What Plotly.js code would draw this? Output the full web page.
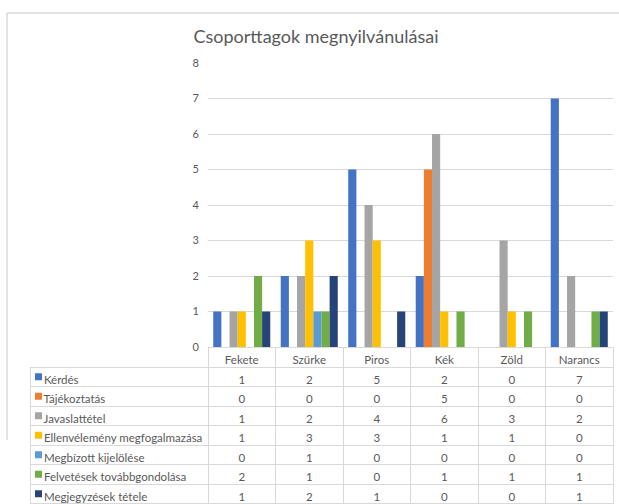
<!DOCTYPE html>
<html>
<head>
<meta charset="utf-8">
<script src="https://cdn.plot.ly/plotly-3.0.1.min.js"></script>
<style>html,body{margin:0;padding:0;background:#fff;}#chart{width:619px;height:504px;}</style>
</head>
<body>
<div id="chart"></div>
<script>
var categories = ['Fekete', 'Szürke', 'Piros', 'Kék', 'Zöld', 'Narancs'];
var seriesNames = ['Kérdés', 'Tájékoztatás', 'Javaslattétel', 'Ellenvélemény megfogalmazása', 'Megbízott kijelölése', 'Felvetések továbbgondolása', 'Megjegyzések tétele'];
var kerdes = [1, 2, 5, 2, 0, 7];
var tajekoztatas = [0, 0, 0, 5, 0, 0];
var javaslattetel = [1, 2, 4, 6, 3, 2];
var ellenvelemeny = [1, 3, 3, 1, 1, 0];
var megbizott = [0, 1, 0, 0, 0, 0];
var felvetesek = [2, 1, 0, 1, 1, 1];
var megjegyzesek = [1, 2, 1, 0, 0, 1];
var seriesValues = [kerdes, tajekoztatas, javaslattetel, ellenvelemeny, megbizott, felvetesek, megjegyzesek];
var seriesColors = ['#4472C4', '#ED7D31', '#A5A5A5', '#FFC000', '#5B9BD5', '#70AD47', '#264478'];
var yTicks = [0, 1, 2, 3, 4, 5, 6, 7, 8];

var W = 619, H = 504;
var plotL = 208, plotR = 613, plotT = 63, plotB = 347;
var tableL = 30, headerH = 20, rowH = 19.5;
var txt = '#595959', grid = '#d9d9d9';
var fontFam = 'Lato, Calibri, Carlito, sans-serif';

var traces = [];
for (var i = 0; i < seriesNames.length; i++) {
  traces.push({
    type: 'bar', name: seriesNames[i], x: categories, y: seriesValues[i],
    marker: {color: seriesColors[i], line: {width: 0}},
    showlegend: false, hoverinfo: 'x+y+name'
  });
}

// Data table: names use non-breaking spaces so the table keeps single-line rows
var firstCol = seriesNames.map(function (n) {
  return '\u00A0\u00A0' + n.replace(/ /g, '\u00A0');
});
var tableCols = [firstCol];
for (var c = 0; c < categories.length; c++) {
  tableCols.push(seriesValues.map(function (s) { return String(s[c]); }));
}
var headerVals = [''].concat(categories);
var catW = (plotR - plotL) / categories.length;
var colWidths = [plotL - tableL].concat(categories.map(function () { return catW; }));
var headerLine = ['rgba(0,0,0,0)'].concat(categories.map(function () { return grid; }));
var headerFill = ['rgba(0,0,0,0)'].concat(categories.map(function () { return '#ffffff'; }));
var aligns = ['left'].concat(categories.map(function () { return 'center'; }));

traces.push({
  type: 'table',
  domain: {x: [tableL / W, plotR / W], y: [0, (H - plotB) / H]},
  columnwidth: colWidths,
  header: {
    values: headerVals, height: headerH, align: 'center',
    fill: {color: headerFill}, line: {color: headerLine, width: 1},
    font: {family: fontFam, size: 11.5, color: txt}
  },
  cells: {
    values: tableCols, height: rowH, align: aligns,
    fill: {color: '#ffffff'}, line: {color: grid, width: 1},
    font: {family: fontFam, size: 11.5, color: txt}
  }
});

// Legend keys (coloured squares) in front of each table row
var shapes = [
  {type: 'line', xref: 'paper', yref: 'paper', x0: 7 / W, x1: 1, y0: 1 - 13 / H, y1: 1 - 13 / H,
   line: {color: '#d9d9d9', width: 1.5}},
  {type: 'line', xref: 'paper', yref: 'paper', x0: 7 / W, x1: 7 / W, y0: 1 - 13 / H, y1: 1 - 440 / H,
   line: {color: '#d9d9d9', width: 1.5}}
];
seriesColors.forEach(function (col, i) {
  var cy = plotB + headerH + (i + 0.5) * rowH;
  shapes.push({type: 'rect', xref: 'paper', yref: 'paper', layer: 'above',
    x0: 35 / W, x1: 42 / W, y0: 1 - (cy + 3.5) / H, y1: 1 - (cy - 3.5) / H,
    fillcolor: col, line: {width: 0}});
});

var layout = {
  width: W, height: H,
  margin: {l: 0, r: 0, t: 0, b: 0},
  paper_bgcolor: '#ffffff', plot_bgcolor: '#ffffff',
  font: {family: fontFam, color: txt},
  title: {text: 'Csoporttagok megnyilvánulásai', x: 316 / W, xanchor: 'center', xref: 'paper',
          y: 1 - 37 / H, yanchor: 'middle', yref: 'container',
          font: {family: fontFam, size: 18, color: txt}},
  barmode: 'group', bargap: 0.155, bargroupgap: 0,
  xaxis: {domain: [plotL / W, plotR / W], type: 'category', showticklabels: false,
          ticks: '', showgrid: false, zeroline: false, showline: false, fixedrange: true},
  yaxis: {domain: [(H - plotB) / H, (H - plotT) / H], range: [0, 8], tickvals: yTicks,
          showgrid: true, gridcolor: grid, gridwidth: 1, zeroline: true, zerolinecolor: grid,
          zerolinewidth: 1, showline: false, ticks: '', ticklabelstandoff: 8,
          tickfont: {family: fontFam, size: 11, color: txt}, fixedrange: true},
  shapes: shapes
};

Plotly.newPlot('chart', traces, layout, {displayModeBar: false, staticPlot: true});
</script>
</body>
</html>
